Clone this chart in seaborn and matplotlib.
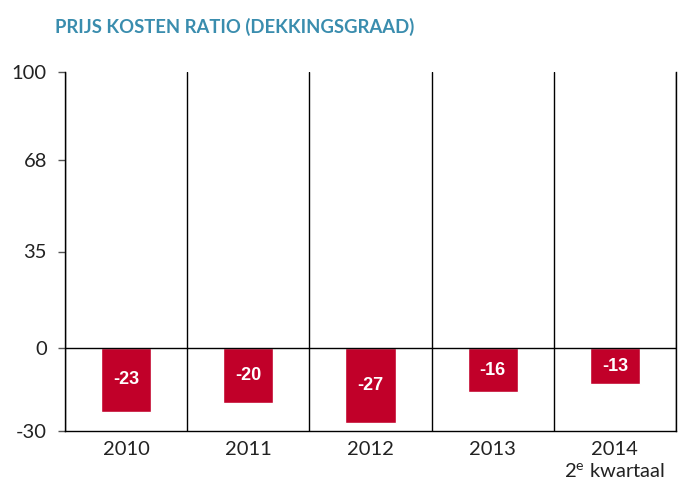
import matplotlib
matplotlib.use("Agg")
import matplotlib.pyplot as plt
import seaborn as sns
import pandas as pd

years = ["2010", "2011", "2012", "2013", "2014"]
values = [-23, -20, -27, -16, -13]
tick_labels = ["2010", "2011", "2012", "2013", "2014\n2$^{\\mathrm{e}}$ kwartaal"]
yticks = [100, 68, 35, 0, -30]
title = "PRIJS KOSTEN RATIO (DEKKINGSGRAAD)"

sns.set_style("white")
plt.rcParams['font.family'] = ['Lato', 'DejaVu Sans']
plt.rcParams['mathtext.fontset'] = 'custom'
plt.rcParams['mathtext.rm'] = 'Lato'

df = pd.DataFrame({"year": years, "value": values})

fig = plt.figure(figsize=(6.87, 4.82), dpi=100)
ax = fig.add_axes([65/687, 1-431/482, (676-65)/687, (431-72)/482])

sns.barplot(data=df, x="year", y="value", color="#C10029", width=0.41,
            saturation=1, ax=ax, order=years)

for c in ax.containers:
    ax.bar_label(c, labels=[str(v) for v in values], label_type="center",
                 color="white", fontsize=13, fontweight="bold",
                 family=["Liberation Sans", "DejaVu Sans"])

ax.set_xlim(-0.5, 4.5)
ax.set_ylim(-30, 100)
ax.set_yticks(yticks)
ax.set_yticklabels([str(v) for v in yticks], fontsize=14.5, color="#222222")
ax.set_xticks(range(len(years)))
ax.set_xticklabels(tick_labels, fontsize=14.5, color="#222222", linespacing=1.3)
ax.set_xticks([i - 0.5 for i in range(len(years) + 1)], minor=True)
ax.tick_params(axis="x", which="major", length=0, pad=7)
ax.tick_params(axis="x", which="minor", length=9, width=1, color="black", direction="out")
ax.tick_params(axis="y", which="major", length=5, width=1, color="#555555", pad=8, left=True)
ax.grid(False)
ax.grid(which="minor", axis="x", color="black", lw=1)
ax.axhline(0, color="black", lw=1)
ax.set_xlabel("")
ax.set_ylabel("")

for s in ["top"]:
    ax.spines[s].set_visible(False)
for s in ["left", "right", "bottom"]:
    ax.spines[s].set_visible(True)
    ax.spines[s].set_color("black")
    ax.spines[s].set_linewidth(1)

fig.text(55/687, 1-27/482, title, fontsize=13.3, color="#3A8DAE", fontweight="bold",
         va="center", ha="left")

fig.savefig("out.png", dpi=100)
